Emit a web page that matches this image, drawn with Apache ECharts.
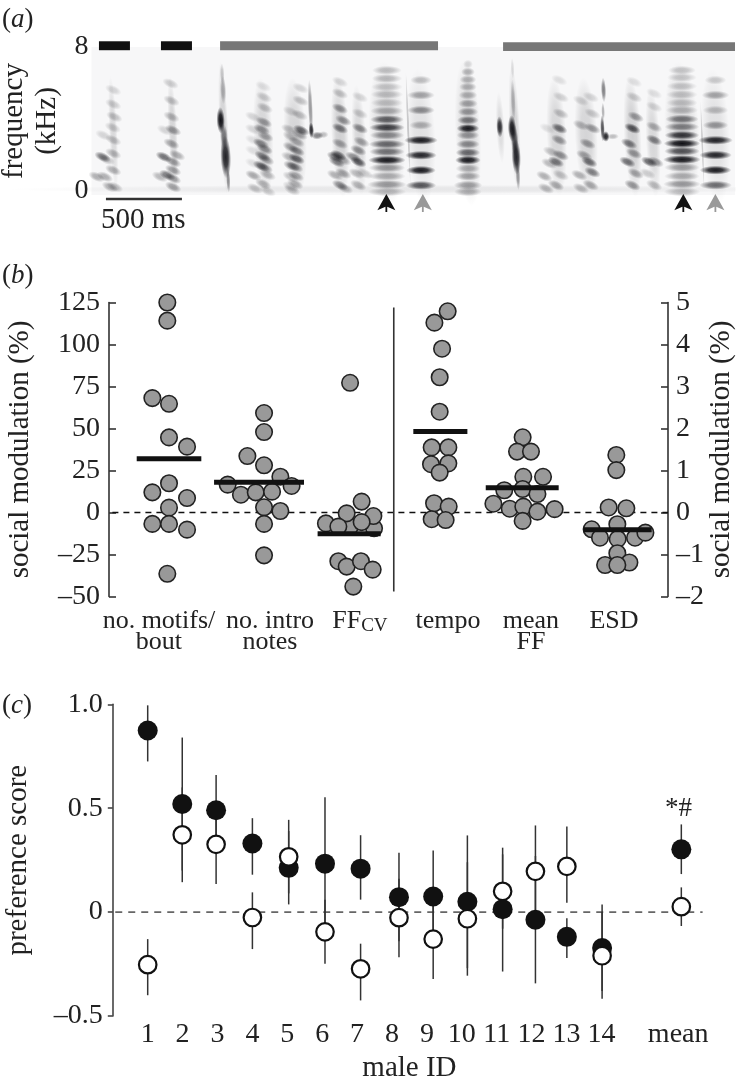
<!DOCTYPE html>
<html><head><meta charset="utf-8">
<script src="https://cdn.jsdelivr.net/npm/echarts@6/dist/echarts.min.js"></script>
<style>html,body{margin:0;padding:0;background:#fff}#c{width:736px;height:1081px}</style>
</head><body><div id="c"></div>
<script>
// ---------- panel (a) spectrogram: time in ms, frequency in kHz ----------
const motifBars = [[49,253,8.32,7.82,'#111'],[457,661,8.32,7.82,'#111'],[846,2280,8.32,7.82,'#777'],[2708,4234,8.27,7.77,'#777']];
const scaleBar = [[95,595,-0.5]];
const blackArrows = [[1940,-0.72],[3894,-0.72]];
const greyArrows = [[2180,-0.72],[4105,-0.72]];
// harmonic stacks: [centre ms, frequency, darkness, width ms]
const stackA = [[1944,-.09,.25,195],[1944,.32,.4,200],[1944,.78,.3,190],[1944,1.25,.38,185],[1944,1.68,.95,190],[1944,2.15,.55,180],[1944,2.57,.6,185],[1944,3.07,.45,175],[1944,3.5,.8,180],[1944,3.95,.65,170],[1944,4.43,.3,170],[1944,4.88,.2,165],[1944,5.35,.22,165],[1944,5.77,.2,160],[1944,6.24,.25,155],[1944,6.7,.25,150]];
const stackB = [[2168,.27,.7,155],[2168,1.11,.95,150],[2168,1.95,.9,160],[2168,2.79,.95,170],[2168,3.63,.3,120],[2168,4.47,.45,140],[2168,5.31,.35,140],[2168,6.15,.25,110]];
const stackC = [[2477,-.09,.3,140],[2477,.28,.38,145],[2477,.78,.35,130],[2477,1.21,.3,125],[2477,1.68,.95,130],[2477,2.1,.6,125],[2477,2.57,.45,120],[2477,3.07,.4,115],[2477,3.45,.95,115],[2477,3.91,.55,110],[2477,4.38,.4,105],[2477,4.84,.35,100],[2477,5.31,.3,95],[2477,5.77,.3,90],[2477,6.18,.3,85],[2477,6.61,.3,70],[2477,7.04,.15,50]];
const stackD = [[3885,-.09,.25,185],[3885,.34,.4,190],[3885,.78,.3,180],[3885,1.27,.35,180],[3885,1.71,.95,190],[3885,2.18,.7,180],[3885,2.61,1,185],[3885,3.07,.85,175],[3885,3.54,.5,175],[3885,3.97,.55,170],[3885,4.47,.25,165],[3885,4.88,.2,160],[3885,5.34,.2,160],[3885,5.81,.2,155],[3885,6.3,.2,150],[3885,6.7,.22,140]];
const stackE = [[4106,.28,.6,165],[4106,1.12,.95,160],[4106,1.96,.9,165],[4106,2.79,.92,175],[4106,3.63,.4,130],[4106,4.47,.25,130],[4106,5.31,.35,140],[4106,6.15,.2,110]];
// slanted strokes of the sweeping notes: [ms, kHz, darkness]
const strokes1 = [[143,5.6,.2],[143,4.8,.25],[150,4.1,.3],[140,3.5,.25],[73,1.86,.7],[34,.75,.4],[100,1.7,.3],[78,3.07,.2],[88,.75,.4],[121,.18,.4],[154,.18,.35],[143,1.12,.4],[143,2.05,.35],[143,2.8,.3]];
const strokes2 = [[476,1.86,.75],[498,.84,.7],[450,.75,.35],[537,.18,.5],[537,.65,.5],[537,1.12,.5],[537,1.58,.5],[564,1.95,.4],[526,2.6,.45],[537,3.35,.5],[483,3.35,.2],[526,4.1,.35],[526,5,.3],[520,5.96,.25]];
const strokes4 = [[1160,-.05,.25],[1130,.35,.4],[1075,.1,.3],[1065,.82,.45],[1160,.85,.35],[1140,1.25,.5],[1115,1.35,.7],[1150,1.7,.45],[1125,1.9,.65],[1140,2.3,.55],[1115,2.6,.6],[1145,3,.45],[1120,3.4,.55],[1135,3.8,.5],[1063,4.1,.2],[1063,3.4,.2],[1063,2.8,.15],[1063,2.2,.15],[1063,1.5,.15],[1140,4.6,.3],[1135,5.2,.25],[1130,5.8,.15]];
const strokes5 = [[1320,0,.3],[1340,.35,.4],[1310,.2,.25],[1345,.8,.45],[1310,.75,.3],[1340,1.3,.55],[1315,1.35,.55],[1350,1.75,.8],[1300,1.85,.35],[1350,2.2,.6],[1310,2.4,.45],[1350,2.7,.4],[1310,3,.3],[1370,3.1,.45],[1300,3.4,.3],[1380,3.35,.8],[1370,4.2,.3],[1310,4.4,.2],[1375,5,.3],[1375,5.7,.2]];
const strokes7 = [[1635,.28,.6],[1668,.1,.35],[1602,.84,.4],[1657,.93,.45],[1613,1.58,.65],[1624,1.95,.8],[1602,1.86,.7],[1657,1.68,.4],[1635,2.6,.45],[1635,3.45,.7],[1657,3.9,.55],[1635,4.56,.55],[1635,5.4,.3],[1635,6.05,.2]];
const strokes8 = [[1755,.28,.4],[1744,.93,.35],[1755,1.58,.85],[1722,1.86,.6],[1755,2.23,.55],[1777,2.7,.45],[1766,3.45,.6],[1766,4.28,.25],[1766,5.2,.2],[1799,.93,.25]];
const strokes9 = [[3056,.28,.45],[2990,.1,.35],[2979,.78,.4],[3088,.84,.3],[3056,1.58,.7],[3012,1.49,.35],[3088,1.95,.55],[3078,2.8,.5],[3023,2.15,.3],[3078,3.45,.75],[3000,3.45,.15],[3088,4.28,.3],[3088,5.2,.22],[3078,6.15,.15]];
const strokes10 = [[3285,.28,.45],[3220,.1,.35],[3209,.84,.4],[3296,1,.65],[3275,1.58,.75],[3242,1.95,.45],[3264,2.6,.5],[3296,3.45,.5],[3220,3.63,.35],[3296,4.28,.25],[3220,5,.2],[3285,5.2,.2]];
const strokes11 = [[3559,.28,.55],[3581,.93,.45],[3526,1.58,.75],[3570,2.05,.5],[3537,2.6,.7],[3559,3.45,.9],[3581,4.1,.5],[3570,5.2,.25],[3570,6.05,.15]];
const strokes12 = [[3702,.28,.35],[3669,1.58,.8],[3712,1.58,.5],[3702,2.8,.65],[3658,.93,.25],[3702,3.54,.4],[3702,4.66,.2],[3702,5.4,.15]];
// near-vertical spikes: [ms, kHz, kHz extent, darkness, ms width]
const spikes = [
 [850,3.9,1.5,1,55],[883,1.85,2.4,.9,70],[866,5.6,1.6,.3,40],[860,6.5,1.2,.2,30],[900,.56,1.4,.45,28],[872,3,1.4,.5,50],
 [1440,4.6,3.2,.4,32],[1446,3.35,.9,.85,36],[1485,3.05,.45,.5,80],[1525,3.1,.4,.25,70],
 [2686,3.54,1.2,.85,45],[2767,3.45,1.5,.95,55],[2795,1.86,2,.9,60],[2784,2.8,1.8,.7,48],[2806,.8,1.6,.4,30],[2774,5,2.4,.25,32],[2770,6.8,1.2,.12,24],
 [3369,5.6,1.4,.5,34],[3362,3.45,1.5,.7,30],[3384,3,.6,.9,48],[3430,3,.35,.25,80],[3366,4.4,1,.3,24],[2083,3.5,6.5,.2,18],[4019,2.5,5,.18,16]];
// faint haze behind each note: [ms, kHz, kHz extent, darkness, ms width]
const haze = [[143,3.2,6.4,.13,55],[535,3.2,6.4,.15,60],[870,3.5,7.4,.16,60],[1130,3,6.6,.15,130],[1340,3,6.6,.15,150],[1635,3,6.8,.17,115],[1760,2.8,6.2,.14,95],[2690,3.5,4,.12,55],[2784,3.5,7,.16,70],[3060,3,6.6,.15,130],[3255,3,6.6,.15,150],[3560,3,6.8,.17,115],[3695,2.7,6.2,.14,95],[1944,3.2,8,.14,240],[2168,3,7.6,.1,190],[2477,3.2,8.2,.14,170],[3885,3.2,8,.14,230],[4106,3,7.6,.1,190]];
const groundNoise = [[2150,.05,.3,.07,4200]];
// ---------- panel (b) social modulation ----------
const motifsX = [3.43,3.43,2.55,3.53,3.53,4.59,3.53,2.55,4.59,3.53,2.55,3.53,4.59,3.43];
const motifsY = [125,114.2,68.1,64.7,44.7,39.2,17.4,12,8.6,2.9,-6.8,-6.8,-10.2,-36.5];
const introX = [9.12,9.12,8.14,9.12,10.08,6.98,10.74,7.76,8.63,9.59,9.12,10.08,9.12,9.12];
const introY = [59.2,47.9,33.6,28.1,21.3,16.6,15.8,10.6,12,12.4,3.1,.9,-6.8,-25.5];
const ffcvX = [14.18,14.18,15.59,14.86,13.98,15.55,12.76,14.86,13.49,13.49,13.98,14.82,15.51,14.37];
const ffcvY = [77.2,-8.4,-9.4,6.5,-.5,-2.1,-6.5,-5.7,-8.4,-29,-32.2,-29,-34,-44.1];
const tempoX = [19.92,19.14,19.59,19.45,19.45,18.98,19.96,18.94,19.96,19.45,19.12,19.98,18.98,19.8];
const tempoY = [4.79,4.52,3.9,3.22,2.4,1.55,1.55,1.15,1.17,.95,.22,.14,-.16,-.18];
const meanFfX = [24.33,24,24.82,24.37,25.53,23.25,24.33,25.2,22.61,23.57,24.37,25.2,26.21,24.33];
const meanFfY = [1.79,1.45,1.45,.85,.85,.53,.56,.44,.21,.09,.14,.02,.08,-.2];
const esdX = [29.84,29.84,29.39,30.43,28.39,28.88,30.94,31.55,29.9,29.92,29.9,29.18,30.61,29.9];
const esdY = [1.37,1.01,.12,.1,-.4,-.6,-.6,-.48,-.28,-.63,-.97,-1.25,-1.19,-1.25];
const meansLeft = [[1.63,5.43,32],[6.18,11.47,18],[12.27,15.98,-12.6]];
const meansRight = [[17.9,21.08,1.93],[22.16,26.45,.59],[27.9,31.92,-.41]];
const bLabelPos = [2.94,9.47,14.76,19.94,24.82,29.7];
const bLabels = ['no. motifs/\nbout','no. intro\nnotes','FF{sub|CV}','tempo','mean\nFF','ESD'];
// ---------- panel (c) preference score ----------
const malePos = [1,1.99,2.96,4,5.04,6.08,7.1,8.2,9.18,10.16,11.17,12.11,13.01,14.02,16.29];
const maleTickPos = [1,2,3,4,5,6,7,8,9,10,11,12,13,14,16.2];
const maleLabels = ['1','2','3','4','5','6','7','8','9','10','11','12','13','14','mean'];
const filledY = [.874,.52,.49,.33,.213,.233,.209,.072,.075,.05,.014,-.037,-.119,-.173,.302];
const filledLo = [.725,.2,.32,.18,.037,-.09,.06,-.14,-.147,-.27,-.286,-.343,-.221,-.38,.183];
const filledHi = [.995,.84,.66,.452,.39,.553,.37,.286,.297,.369,.31,.27,-.03,.037,.422];
const openY = [-.253,.372,.326,-.026,.266,-.095,-.273,-.027,-.13,-.032,.1,.196,.22,-.21,.026];
const openLo = [-.4,.144,.135,-.178,.09,-.249,-.425,-.217,-.322,-.306,-.08,-.03,.045,-.417,-.067];
const openHi = [-.13,.6,.51,.095,.444,.06,-.152,.16,.06,.24,.278,.417,.412,0,.119];

const serif = '"Liberation Serif","Times New Roman",serif';
const ink = '#222';
const chart = echarts.init(document.getElementById('c'), null, {renderer:'canvas'});

function soft(d){ return {type:'radial',x:.5,y:.5,r:.5,colorStops:[
  {offset:0,color:`rgba(15,15,20,${d})`},{offset:.45,color:`rgba(15,15,20,${d*.85})`},{offset:1,color:'rgba(15,15,20,0)'}]}; }
function blob(api,t,f,wMs,hK,d,rot){
  const c = api.coord([t,f]), s = api.size([wMs,hK]);
  return {type:'circle',x:c[0],y:c[1],rotation:rot||0,scaleX:s[0]/20,scaleY:s[1]/20,shape:{cx:0,cy:0,r:10},style:{fill:soft(d)}};
}
const stackRows = [...stackA,...stackB,...stackC,...stackD,...stackE,...groundNoise.map(r=>[r[0],r[1],r[3],r[4]])];
const strokeRows = [...strokes1,...strokes2,...strokes4,...strokes5,...strokes7,...strokes8,...strokes9,...strokes10,...strokes11,...strokes12];

const dotStyle = {color:'#999',borderColor:'#222',borderWidth:1.6,opacity:1};
function dots(xs,ys,yIdx){
  return {type:'scatter',xAxisIndex:1,yAxisIndex:yIdx,symbol:'circle',symbolSize:16.5,itemStyle:dotStyle,z:3,silent:true,
    data:xs.map((x,i)=>[x,ys[i]])};
}
function meanBars(rows,yIdx){
  return {type:'custom',xAxisIndex:1,yAxisIndex:yIdx,z:5,silent:true,data:rows,
    renderItem:(p,api)=>{const a=api.coord([api.value(0),api.value(2)]),b=api.coord([api.value(1),api.value(2)]);
      return {type:'line',shape:{x1:a[0],y1:a[1],x2:b[0],y2:b[1]},style:{stroke:'#111',lineWidth:5}};}};
}
function whiskers(xs,lo,hi){
  return {type:'custom',xAxisIndex:2,yAxisIndex:3,z:2,silent:true,data:xs.map((x,i)=>[x,lo[i],hi[i]]),
    renderItem:(p,api)=>{const a=api.coord([api.value(0),api.value(1)]),b=api.coord([api.value(0),api.value(2)]);
      return {type:'line',shape:{x1:a[0],y1:a[1],x2:b[0],y2:b[1]},style:{stroke:'#333',lineWidth:1.5}};}};
}
const filledPts = malePos.map((x,i)=>[x,filledY[i]]);
const openPts = malePos.map((x,i)=>[x,openY[i]]);
const onTop = [10]; // male 11: filled point lies above its open point
const arrowPath = 'path://M10 0 L20 18 L11 14 L11 20 L9 20 L9 14 L0 18 Z';

const option = {
  animation:false, backgroundColor:'#fff',
  textStyle:{fontFamily:serif,color:ink},
  grid:[
    {left:91.5,top:47,width:643.5,height:148,show:true,backgroundColor:'#f7f7f8',borderWidth:0,outerBoundsMode:'none'},
    {left:109,top:302.5,width:559,height:294,outerBoundsMode:'none'},
    {left:112.8,top:704.3,width:593.3,height:311.7,outerBoundsMode:'none'}
  ],
  xAxis:[
    {gridIndex:0,type:'value',min:0,max:4234,show:false},
    {gridIndex:1,type:'value',min:0,max:32.88,splitLine:{show:false},axisLine:{show:false},axisTick:{show:false},
     axisLabel:{customValues:bLabelPos,margin:14,fontFamily:serif,fontSize:26,color:ink,lineHeight:21,
       formatter:v=>bLabels[bLabelPos.indexOf(v)],
       rich:{sub:{fontFamily:serif,fontSize:19,color:ink,padding:[10,0,0,0]}}}},
    {gridIndex:2,type:'value',min:0,max:17,splitLine:{show:false},axisLine:{show:false},axisTick:{show:false},
     name:'male ID',nameLocation:'middle',nameGap:38,nameMoveOverlap:false,nameTextStyle:{fontFamily:serif,fontSize:29,color:ink},
     axisLabel:{customValues:maleTickPos,margin:5,fontFamily:serif,fontSize:28,color:ink,
       formatter:v=>maleLabels[maleTickPos.indexOf(v)]}}
  ],
  yAxis:[
    {gridIndex:0,type:'value',min:-.27,max:8,splitLine:{show:false},axisLine:{show:false},axisTick:{show:false},
     name:'frequency\n(kHz)',nameLocation:'middle',nameRotate:90,nameGap:28,nameMoveOverlap:false,
     nameTextStyle:{fontFamily:serif,fontSize:29,color:ink,lineHeight:33},
     axisLabel:{customValues:[0,8],margin:3,fontFamily:serif,fontSize:28,color:ink}},
    {gridIndex:1,type:'value',min:-50,max:125,interval:25,splitLine:{show:false},
     axisLine:{show:true,lineStyle:{color:'#333',width:1.6}},axisTick:{show:true,inside:true,length:7,lineStyle:{color:'#333',width:1.6}},
     name:'social modulation (%)',nameLocation:'middle',nameRotate:90,nameGap:74,nameMoveOverlap:false,
     nameTextStyle:{fontFamily:serif,fontSize:29,color:ink},
     axisLabel:{margin:9,fontFamily:serif,fontSize:28,color:ink,formatter:v=>String(v).replace('-','–')}},
    {gridIndex:1,type:'value',position:'right',min:-2,max:5,interval:1,splitLine:{show:false},
     axisLine:{show:true,lineStyle:{color:'#333',width:1.6}},axisTick:{show:true,inside:true,length:7,lineStyle:{color:'#333',width:1.6}},
     name:'social modulation (%)',nameLocation:'middle',nameRotate:90,nameGap:39,nameMoveOverlap:false,
     nameTextStyle:{fontFamily:serif,fontSize:29,color:ink},
     axisLabel:{margin:8,fontFamily:serif,fontSize:28,color:ink,formatter:v=>String(v).replace('-','–')}},
    {gridIndex:2,type:'value',min:-.5,max:1,interval:.5,splitLine:{show:false},
     axisLine:{show:true,lineStyle:{color:'#444',width:1.6}},axisTick:{show:true,length:5,lineStyle:{color:'#444',width:1.6}},
     name:'preference score',nameLocation:'middle',nameRotate:90,nameGap:80,nameMoveOverlap:false,
     nameTextStyle:{fontFamily:serif,fontSize:29,color:ink},
     axisLabel:{margin:10,fontFamily:serif,fontSize:28,color:ink,
       formatter:v=>v===0?'0':v.toFixed(1).replace('-','–')}}
  ],
  series:[
    // (a) spectrogram
    {type:'custom',xAxisIndex:0,yAxisIndex:0,z:1,silent:true,data:haze,
     renderItem:(p,api)=>blob(api,api.value(0),api.value(1),api.value(4),api.value(2),api.value(3),0.05)},
    {type:'custom',xAxisIndex:0,yAxisIndex:0,z:1,silent:true,data:stackRows,
     renderItem:(p,api)=>blob(api,api.value(0),api.value(1),api.value(3)*1.3,.5,api.value(2),0)},
    {type:'custom',xAxisIndex:0,yAxisIndex:0,z:1,silent:true,data:spikes,
     renderItem:(p,api)=>blob(api,api.value(0),api.value(1),api.value(4),api.value(2),api.value(3),0.04)},
    {type:'custom',xAxisIndex:0,yAxisIndex:0,z:1,silent:true,data:strokeRows,
     renderItem:(p,api)=>blob(api,api.value(0),api.value(1),115,.5,api.value(2)*.78,-0.42)},
    {type:'custom',xAxisIndex:0,yAxisIndex:0,z:4,silent:true,clip:false,data:motifBars,
     renderItem:(p,api)=>{const a=api.coord([api.value(0),api.value(2)]),b=api.coord([api.value(1),api.value(3)]);
       return {type:'rect',shape:{x:a[0],y:a[1],width:b[0]-a[0],height:b[1]-a[1]},style:{fill:motifBars[p.dataIndex][4]}};}},
    {type:'custom',xAxisIndex:0,yAxisIndex:0,z:4,silent:true,clip:false,data:scaleBar,
     renderItem:(p,api)=>{const a=api.coord([api.value(0),api.value(2)]),b=api.coord([api.value(1),api.value(2)]);
       return {type:'line',shape:{x1:a[0],y1:a[1],x2:b[0],y2:b[1]},style:{stroke:'#333',lineWidth:2.5}};}},
    {type:'scatter',xAxisIndex:0,yAxisIndex:0,clip:false,silent:true,symbol:arrowPath,symbolSize:[18,18],itemStyle:{color:'#111',opacity:1},data:blackArrows},
    {type:'scatter',xAxisIndex:0,yAxisIndex:0,clip:false,silent:true,symbol:arrowPath,symbolSize:[18,18],itemStyle:{color:'#999',opacity:1},data:greyArrows},
    // (b) zero line and divider
    {type:'line',xAxisIndex:1,yAxisIndex:1,symbol:'none',silent:true,z:2,data:[[.2,0],[32.88,0]],lineStyle:{color:'#111',width:1.6,type:[6,5]}},
    {type:'line',xAxisIndex:1,yAxisIndex:1,symbol:'none',silent:true,z:2,data:[[16.75,122],[16.75,-47]],lineStyle:{color:'#333',width:1.6}},
    dots(motifsX,motifsY,1),dots(introX,introY,1),dots(ffcvX,ffcvY,1),
    dots(tempoX,tempoY,2),dots(meanFfX,meanFfY,2),dots(esdX,esdY,2),
    meanBars(meansLeft,1),meanBars(meansRight,2),
    // (c)
    {type:'line',xAxisIndex:2,yAxisIndex:3,symbol:'none',silent:true,z:1,data:[[.07,0],[16.9,0]],lineStyle:{color:'#666',width:1.8,type:[7,6]}},
    whiskers(malePos,filledLo,filledHi),whiskers(malePos,openLo,openHi),
    {type:'scatter',xAxisIndex:2,yAxisIndex:3,symbol:'circle',symbolSize:20,z:3,silent:true,itemStyle:{color:'#111',opacity:1},
     data:filledPts.filter((d,i)=>!onTop.includes(i))},
    {type:'scatter',xAxisIndex:2,yAxisIndex:3,symbol:'circle',symbolSize:17.5,z:3,silent:true,itemStyle:{color:'#fff',borderColor:'#111',borderWidth:2.2,opacity:1},
     data:openPts},
    {type:'scatter',xAxisIndex:2,yAxisIndex:3,symbol:'circle',symbolSize:20,z:4,silent:true,itemStyle:{color:'#111',opacity:1},
     data:filledPts.filter((d,i)=>onTop.includes(i))}
  ],
  graphic:[
    {type:'text',left:2,top:6,style:{text:'({i|a})',fontFamily:serif,fontSize:27,fill:ink,rich:{i:{fontFamily:serif,fontStyle:'italic',fontSize:27,fill:ink}}}},
    {type:'text',left:2,top:262,style:{text:'({i|b})',fontFamily:serif,fontSize:27,fill:ink,rich:{i:{fontFamily:serif,fontStyle:'italic',fontSize:27,fill:ink}}}},
    {type:'text',left:2,top:692,style:{text:'({i|c})',fontFamily:serif,fontSize:27,fill:ink,rich:{i:{fontFamily:serif,fontStyle:'italic',fontSize:27,fill:ink}}}},
    {type:'text',left:101,top:206,style:{text:'500 ms',fontFamily:serif,fontSize:29,fill:ink}},
    {type:'text',left:665,top:795,style:{text:'*#',fontFamily:serif,fontSize:27,fill:ink}}
  ]
};
chart.setOption(option);
</script></body></html>
